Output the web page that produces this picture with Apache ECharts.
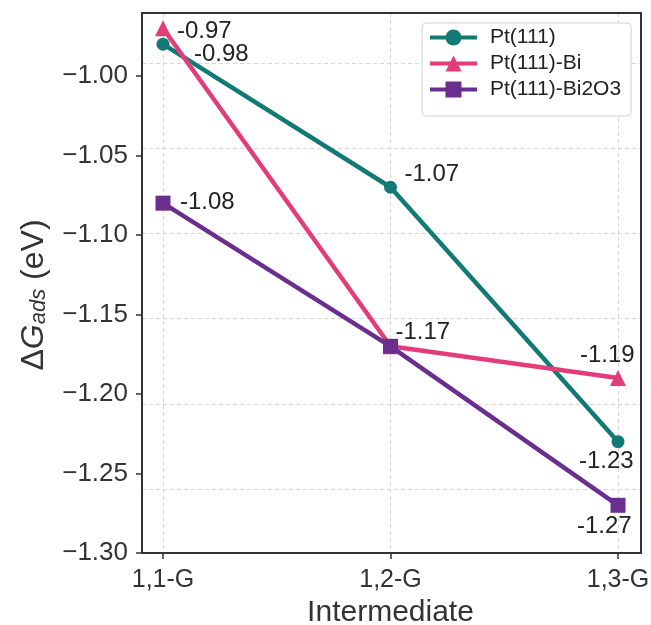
<!DOCTYPE html>
<html>
<head>
<meta charset="utf-8">
<script src="https://cdn.jsdelivr.net/npm/echarts@6/dist/echarts.min.js"></script>
<style>html,body{margin:0;padding:0;background:#fff;}#c{width:651px;height:625px;}</style>
</head>
<body>
<div id="c"></div>
<script>
// ---- data ----
var categories = ['1,1-G', '1,2-G', '1,3-G'];
var seriesNames = ['Pt(111)', 'Pt(111)-Bi', 'Pt(111)-Bi2O3'];
var ptValues = [-0.98, -1.07, -1.23];
var ptBiValues = [-0.97, -1.17, -1.19];
var ptBi2O3Values = [-1.08, -1.17, -1.27];
var yTickValues = [-1.30, -1.25, -1.20, -1.15, -1.10, -1.05, -1.00];

// ---- styles ----
var colors = ['#127a74', '#e23c79', '#6a2f8e'];
var FONT = 'Liberation Sans, Arial, sans-serif';
// per-point label offsets (null = no label)
var ptLabelOff = [[31, 10], [14, -13], [-39, 20]];
var ptBiLabelOff = [[14, 3], null, [-38, -23]];
var ptBi2O3LabelOff = [[17, -1], [5, -14], [-41, 21]];

function buildData(values, offs) {
  return values.map(function (v, i) {
    var o = offs[i];
    var d = { value: v };
    if (o) {
      d.label = { show: true, position: 'inside', offset: o, align: 'left', verticalAlign: 'middle',
        formatter: function (p) { return p.value.toFixed(2); },
        fontSize: 24, color: '#222', fontFamily: FONT };
    } else {
      d.label = { show: false };
    }
    return d;
  });
}

function mkSeries(name, values, offs, color, symbol, size) {
  return {
    name: name, type: 'line', xAxisIndex: 0, yAxisIndex: 0,
    data: buildData(values, offs),
    symbol: symbol, symbolSize: size,
    lineStyle: { color: color, width: 4.5 },
    itemStyle: { color: color },
    z: 5
  };
}

var chart = echarts.init(document.getElementById('c'), null, { renderer: 'canvas' });
chart.setOption({
  animation: false,
  backgroundColor: '#fff',
  grid: [
    { left: 163, right: 33, top: 13, bottom: 72, outerBoundsMode: 'none', containLabel: false },
    { left: 142, right: 10, top: 63, bottom: 136, outerBoundsMode: 'none', containLabel: false },
    { left: 142, right: 10, top: 13, bottom: 72, outerBoundsMode: 'none', containLabel: false, show: true, borderColor: '#333', borderWidth: 2, backgroundColor: 'transparent', z: 10 }
  ],
  xAxis: [
    {
      gridIndex: 0, type: 'category', data: categories, boundaryGap: false,
      axisLine: { show: false },
      axisTick: { show: true, length: 6, lineStyle: { color: '#333', width: 1.5 } },
      axisLabel: { fontSize: 25, color: '#333', fontFamily: FONT, margin: 15 },
      splitLine: { show: true, lineStyle: { color: '#d6d6d6', type: [4, 3], width: 1 } },
      name: 'Intermediate', nameLocation: 'middle', nameGap: 45,
      nameTextStyle: { fontSize: 30, color: '#333', fontFamily: FONT }
    },
    { gridIndex: 1, type: 'value', show: false },
    { gridIndex: 2, type: 'value', show: false }
  ],
  yAxis: [
    {
      gridIndex: 0, type: 'value', min: -1.30, max: -0.9604, offset: 21,
      axisLine: { show: false },
      axisTick: { show: true, length: 6, customValues: yTickValues, lineStyle: { color: '#333', width: 1.5 } },
      axisLabel: { fontSize: 26, color: '#333', fontFamily: FONT, margin: 14, customValues: yTickValues,
        formatter: function (v) { return v.toFixed(2).replace('-', '\u2212'); } },
      splitLine: { show: false },
      name: '{d|\u0394}{g|G}{s|ads}{d| (eV)}', nameLocation: 'middle', nameGap: 92, nameRotate: 90,
      nameTextStyle: {
        color: '#333', fontFamily: FONT, padding: [0, 24, 0, 0],
        rich: {
          d: { fontSize: 32, color: '#333', fontFamily: FONT },
          g: { fontSize: 32, fontStyle: 'italic', color: '#333', fontFamily: FONT },
          s: { fontSize: 22, fontStyle: 'italic', color: '#333', fontFamily: FONT, verticalAlign: 'bottom', padding: [10, 0, 0, 0] }
        }
      }
    },
    {
      gridIndex: 1, type: 'value', min: 0, max: 5, interval: 1,
      axisLine: { show: false }, axisTick: { show: false }, axisLabel: { show: false },
      splitLine: { show: true, lineStyle: { color: '#d6d6d6', type: [4, 3], width: 1 } }
    },
    { gridIndex: 2, type: 'value', show: false }
  ],
  legend: {
    data: seriesNames,
    orient: 'vertical', left: 422, top: 23,
    itemWidth: 47, itemHeight: 20, itemGap: 5,
    padding: [4, 10, 16, 6],
    lineStyle: { width: 4 },
    borderColor: '#d0d0d0', borderWidth: 1, borderRadius: 4, backgroundColor: '#fff',
    textStyle: { fontSize: 21, color: '#222', fontFamily: FONT, padding: [0, 0, 0, 8] },
    z: 20
  },
  series: [
    mkSeries(seriesNames[0], ptValues, ptLabelOff, colors[0], 'circle', 13),
    mkSeries(seriesNames[1], ptBiValues, ptBiLabelOff, colors[1], 'triangle', 16),
    mkSeries(seriesNames[2], ptBi2O3Values, ptBi2O3LabelOff, colors[2], 'rect', 15)
  ]
});
</script>
</body>
</html>
